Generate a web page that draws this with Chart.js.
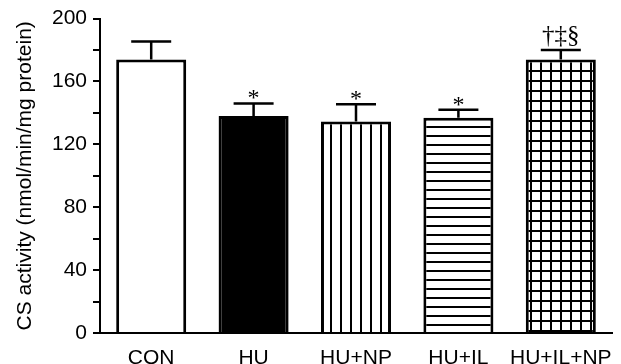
<!DOCTYPE html>
<html>
<head>
<meta charset="utf-8">
<script src="https://cdn.jsdelivr.net/npm/chart.js@4/dist/chart.umd.min.js"></script>
<style>
  html, body { margin: 0; padding: 0; background: #fff; }
  #wrap { width: 621px; height: 364px; }
</style>
</head>
<body>
<div id="wrap"><canvas id="chart" width="621" height="364"></canvas></div>
<script>
// 数据
var groups = ['CON', 'HU', 'HU+NP', 'HU+IL', 'HU+IL+NP'];
var means = [174, 138, 134.5, 137, 174];
var sems = [11.5, 8, 11, 5, 6];
var marks = ['', '*', '*', '*', '†‡§'];
var yTicks = [0, 40, 80, 120, 160, 200];

// 生成填充图案
function makePattern(kind) {
    var c = document.createElement('canvas');
    var ctx = c.getContext('2d');
    var size = kind == 'h' ? 9 : 10;
    c.width = size;
    c.height = size;
    ctx.fillStyle = '#fff';
    ctx.fillRect(0, 0, size, size);
    ctx.fillStyle = '#000';
    if(kind == 'v' || kind == 'grid') {
        ctx.fillRect(0, 0, 2, size);
    }
    if(kind == 'h' || kind == 'grid') {
        ctx.fillRect(0, 0, size, 2);
    }
    return ctx.createPattern(c, 'repeat');
}

var fills = ['#ffffff', '#000000', makePattern('v'), makePattern('h'), makePattern('grid')];

// 误差线和显著性标记
var errorBarPlugin = {
    id: 'errorBars',
    afterDatasetsDraw: function(chart) {
        var ctx = chart.ctx;
        var yScale = chart.scales.y;
        var meta = chart.getDatasetMeta(0);
        ctx.save();
        ctx.strokeStyle = '#000';
        ctx.lineWidth = 2.5;
        for(var i = 0; i < means.length; i++) {
            var x = meta.data[i].x;
            var yMean = yScale.getPixelForValue(means[i]);
            var yTop = yScale.getPixelForValue(means[i] + sems[i]);
            ctx.beginPath();
            ctx.moveTo(x, yMean);
            ctx.lineTo(x, yTop);
            ctx.moveTo(x - 20, yTop);
            ctx.lineTo(x + 20, yTop);
            ctx.stroke();
            if(marks[i]) {
                ctx.fillStyle = '#000';
                ctx.textAlign = 'center';
                ctx.textBaseline = 'alphabetic';
                if(marks[i] == '*') {
                    ctx.font = '24px "Liberation Serif", serif';
                    ctx.fillText(marks[i], x, yTop + 2);
                } else {
                    ctx.font = '25px "Liberation Serif", serif';
                    ctx.fillText(marks[i], x, yTop - 7);
                }
            }
        }
        ctx.restore();
    }
};

new Chart(document.getElementById('chart'), {
    type: 'bar',
    data: {
        labels: groups,
        datasets: [{
            data: means,
            backgroundColor: fills,
            borderColor: '#000',
            borderWidth: 3,
            borderSkipped: 'start',
            barPercentage: 0.684,
            categoryPercentage: 1
        }]
    },
    options: {
        responsive: false,
        animation: false,
        devicePixelRatio: 1,
        layout: {
            padding: { top: 16, right: 9, left: 0, bottom: 0 }
        },
        plugins: {
            legend: { display: false },
            tooltip: { enabled: false }
        },
        scales: {
            x: {
                grid: { display: false },
                border: { display: true, color: '#000', width: 2 },
                ticks: {
                    color: '#000',
                    padding: 5,
                    autoSkip: false,
                    maxRotation: 0,
                    minRotation: 0,
                    font: { family: '"Liberation Sans", Arial, sans-serif', size: 21 }
                },
                afterFit: function(scale) { scale.height = 31; }
            },
            y: {
                min: 0,
                max: 200,
                grid: { drawOnChartArea: false, color: '#000', lineWidth: 2, tickLength: 7 },
                border: { display: true, color: '#000', width: 2 },
                ticks: {
                    stepSize: 20,
                    color: '#000',
                    padding: 6,
                    font: { family: '"Liberation Sans", Arial, sans-serif', size: 21 },
                    callback: function(v) {
                        return yTicks.indexOf(v) >= 0 ? v : '';
                    }
                },
                title: {
                    display: true,
                    text: 'CS activity (nmol/min/mg protein)',
                    color: '#000',
                    padding: { top: 13, bottom: 0 },
                    font: { family: '"Liberation Sans", Arial, sans-serif', size: 21 }
                },
                afterFit: function(scale) { scale.width = 100; }
            }
        }
    },
    plugins: [errorBarPlugin]
});
</script>
</body>
</html>
